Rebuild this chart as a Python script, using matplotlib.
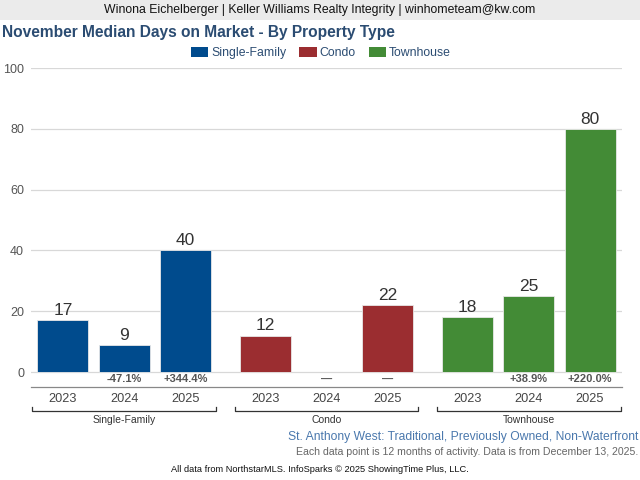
import numpy as np
import matplotlib
matplotlib.use("Agg")
import matplotlib.pyplot as plt
from matplotlib.patches import Rectangle

plt.rcParams['font.family'] = ['Liberation Sans', 'DejaVu Sans']

# data
groups = ['Single-Family', 'Condo', 'Townhouse']
years = ['2023', '2024', '2025']
single_family = [17, 9, 40]
condo = [12, None, 22]
townhouse = [18, 25, 80]
pct_single_family = ['', '-47.1%', '+344.4%']
pct_condo = ['', '\u2014', '\u2014']
pct_townhouse = ['', '+38.9%', '+220.0%']
colors = ['#004b8d', '#9b2d30', '#438b36']

series = [single_family, condo, townhouse]
pcts = [pct_single_family, pct_condo, pct_townhouse]

fig = plt.figure(figsize=(6.4, 4.8), dpi=100)

# banner on top
fig.patches.append(Rectangle((0, 1 - 20/480), 1, 20/480, transform=fig.transFigure,
                             facecolor='#ebebeb', edgecolor='none', zorder=0))
fig.text(0.5, 1 - 10.5/480, 'Winona Eichelberger | Keller Williams Realty Integrity | winhometeam@kw.com',
         ha='center', va='center', fontsize=8.8, color='#111111')
fig.text(2/640, 1 - 33/480, 'November Median Days on Market - By Property Type',
         ha='left', va='center', fontsize=11.2, fontweight='bold', color='#2b4c72')

ax = fig.add_axes([31/640, 1 - 387/480, (622 - 31)/640, (387 - 68)/480])

pitch = 3.3
width = 0.83
for g, vals in enumerate(series):
    for j, v in enumerate(vals):
        x = g * pitch + j
        if v is not None:
            ax.bar(x, v, width=width, color=colors[g], edgecolor='#e8e8e8', linewidth=0.6, zorder=3)
            ax.text(x, v + 0.7, str(v), ha='center', va='bottom', fontsize=12.5, color='#333333', zorder=4)
        if pcts[g][j]:
            ax.text(x, -2.4, pcts[g][j], ha='center', va='center', fontsize=8, fontweight='bold',
                    color='#555555', zorder=4)

    # bracket under each group
    x0 = g * pitch - 0.5
    x1 = g * pitch + 2.5
    ax.plot([x0, x0, x1, x1], [-11.4, -12.8, -12.8, -11.4], color='#333333', lw=0.9, clip_on=False)
    ax.text(g * pitch + 1, -15.6, groups[g], ha='center', va='center', fontsize=7.5, color='#333333')

xs = [g * pitch + j for g in range(3) for j in range(3)]
ax.set_xticks(xs)
ax.set_xticklabels(years * 3, fontsize=9.2, color='#444444')
ax.tick_params(axis='x', length=0, pad=4.5)
ax.set_xlim(-0.52, 9.12)

ax.set_ylim(-4.9, 100)
ax.set_yticks([0, 20, 40, 60, 80, 100])
ax.tick_params(axis='y', length=0, labelsize=9, labelcolor='#555555', pad=5)
ax.grid(axis='y', color='#d8d8d8', lw=0.9, zorder=0)

for s in ['top', 'right', 'left']:
    ax.spines[s].set_visible(False)
ax.spines['bottom'].set_color('#888888')
ax.spines['bottom'].set_linewidth(0.9)

# legend
handles = [Rectangle((0, 0), 1, 1, facecolor=c, edgecolor='none') for c in colors]
fig.legend(handles, groups, loc='center', bbox_to_anchor=(321/640, 1 - 53/480), ncol=3, frameon=False,
           fontsize=8.8, handlelength=1.4, handleheight=0.9, handletextpad=0.25, columnspacing=1.05,
           labelcolor='#2b4c72')

fig.text(638/640, 1 - 437/480, 'St. Anthony West: Traditional, Previously Owned, Non-Waterfront',
         ha='right', va='center', fontsize=8.75, color='#4a78ad')
fig.text(638/640, 1 - 452/480, 'Each data point is 12 months of activity. Data is from December 13, 2025.',
         ha='right', va='center', fontsize=7.6, color='#666666')
fig.text(0.5, 1 - 469/480, 'All data from NorthstarMLS. InfoSparks \u00a9 2025 ShowingTime Plus, LLC.',
         ha='center', va='center', fontsize=6.65, color='#111111')

fig.savefig('out.png', dpi=100)
